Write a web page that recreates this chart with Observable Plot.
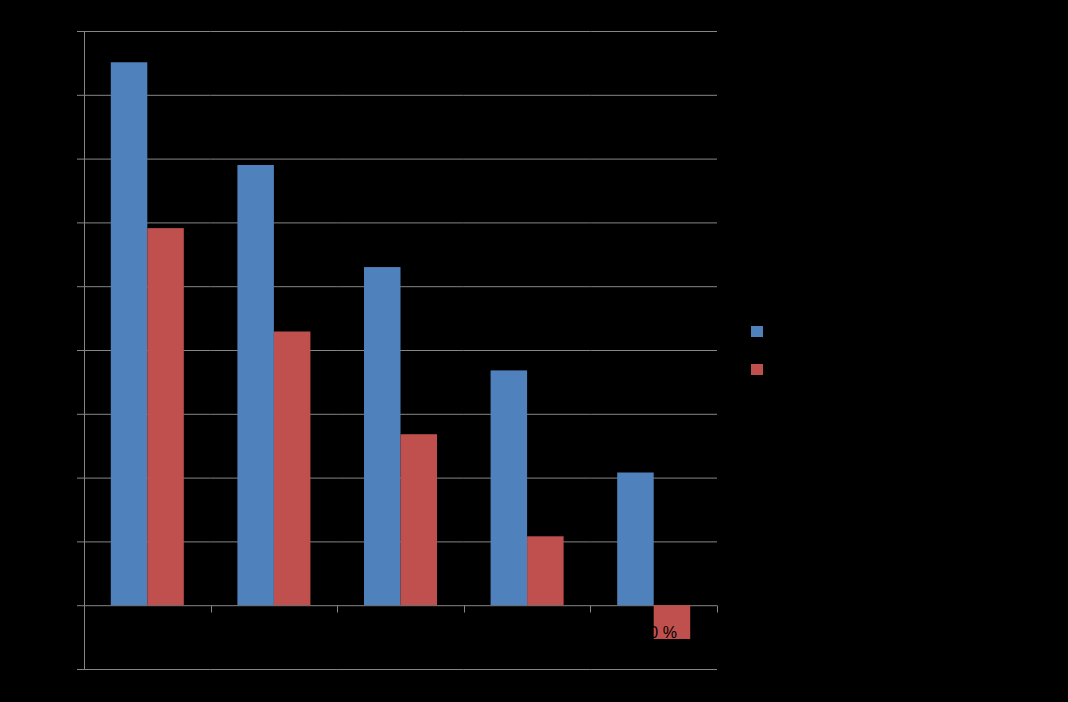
<!DOCTYPE html>
<html><head><meta charset="utf-8">
<script src="https://cdn.jsdelivr.net/npm/d3@7"></script>
<script src="https://cdn.jsdelivr.net/npm/@observablehq/plot@0.6"></script>
<style>
html,body{margin:0;padding:0;background:#000;}
#wrap{position:relative;width:1068px;height:702px;background:#000;font-family:"Liberation Sans",Arial,sans-serif;}
#wrap svg{display:block;}
.row{position:absolute;left:751px;display:flex;align-items:center;height:11px;}
.sw{width:12px;height:11px;margin-right:8px;}
.lab{color:#000;font-size:16px;line-height:11px;white-space:nowrap;}
</style>
</head><body><div id="wrap"></div>
<script>
const categories = ["20 %", "40 %", "60 %", "80 %", "100 %"];
const seriesNames = ["Series 1", "Series 2"];
const seriesColors = ["#4F81BD", "#C0504D"];
const series1 = [85.1, 69, 53, 36.8, 20.8];
const series2 = [59.1, 42.9, 26.8, 10.8, -5.3];
const yTicks = [-10, 0, 10, 20, 30, 40, 50, 60, 70, 80, 90];

const gridColor = "#868686";
const data = categories.flatMap((c, i) => [
  {category: c, series: seriesNames[0], value: series1[i]},
  {category: c, series: seriesNames[1], value: series2[i]}
]);

const chart = Plot.plot({
  width: 1068,
  height: 702,
  marginLeft: 84,
  marginRight: 351,
  marginTop: 31,
  marginBottom: 33,
  style: {background: "#000", color: "#000", fontFamily: "Liberation Sans, Arial, sans-serif", fontSize: "16px"},
  fx: {domain: categories, padding: 0, round: false, axis: null},
  x: {domain: seriesNames, paddingInner: 0, paddingOuter: 0.734, round: false, axis: null},
  y: {domain: [-10, 90], ticks: yTicks},
  color: {domain: seriesNames, range: seriesColors},
  marks: [
    Plot.gridY(yTicks, {stroke: gridColor, strokeOpacity: 1}),
    Plot.barY(data, {fx: "category", x: "series", y: "value", fill: "series"}),
    Plot.axisY(yTicks, {tickSize: 7, stroke: gridColor, strokeOpacity: 1, fill: "#000", tickFormat: d => d + " %", fontSize: 16, label: null}),
    Plot.text(categories, {fx: d => d, y: () => 0, text: d => d, dy: 27, fill: "#000", fontSize: 16})
  ]
});
document.getElementById("wrap").appendChild(chart);

// Axis line on the left and category boundary ticks, placed with the chart's own scales
const fxS = chart.scale("fx");
const yS = chart.scale("y");
const fxFn = d3.scaleBand().domain(fxS.domain).range(fxS.range).padding(0);
const yFn = d3.scaleLinear().domain(yS.domain).range(yS.range);
const g = d3.select(chart).append("g").attr("stroke", gridColor).attr("stroke-width", 1);
const xl = Math.round(fxFn(categories[0])) + 0.5;
g.append("line").attr("x1", xl).attr("x2", xl)
  .attr("y1", yFn(yTicks[yTicks.length - 1])).attr("y2", yFn(yTicks[0]));
const y0 = Math.round(yFn(0)) + 0.5;
categories.forEach(c => {
  const x = Math.round(fxFn(c) + fxFn.bandwidth()) + 0.5;
  g.append("line").attr("x1", x).attr("x2", x).attr("y1", y0).attr("y2", y0 + 7);
});

const legendTops = [326, 364];
seriesNames.forEach((s, i) => {
  const row = d3.select("#wrap").append("div").attr("class", "row").style("top", legendTops[i] + "px");
  row.append("div").attr("class", "sw").style("background", seriesColors[i]);
  row.append("div").attr("class", "lab").text(s);
});
</script>
</body></html>
